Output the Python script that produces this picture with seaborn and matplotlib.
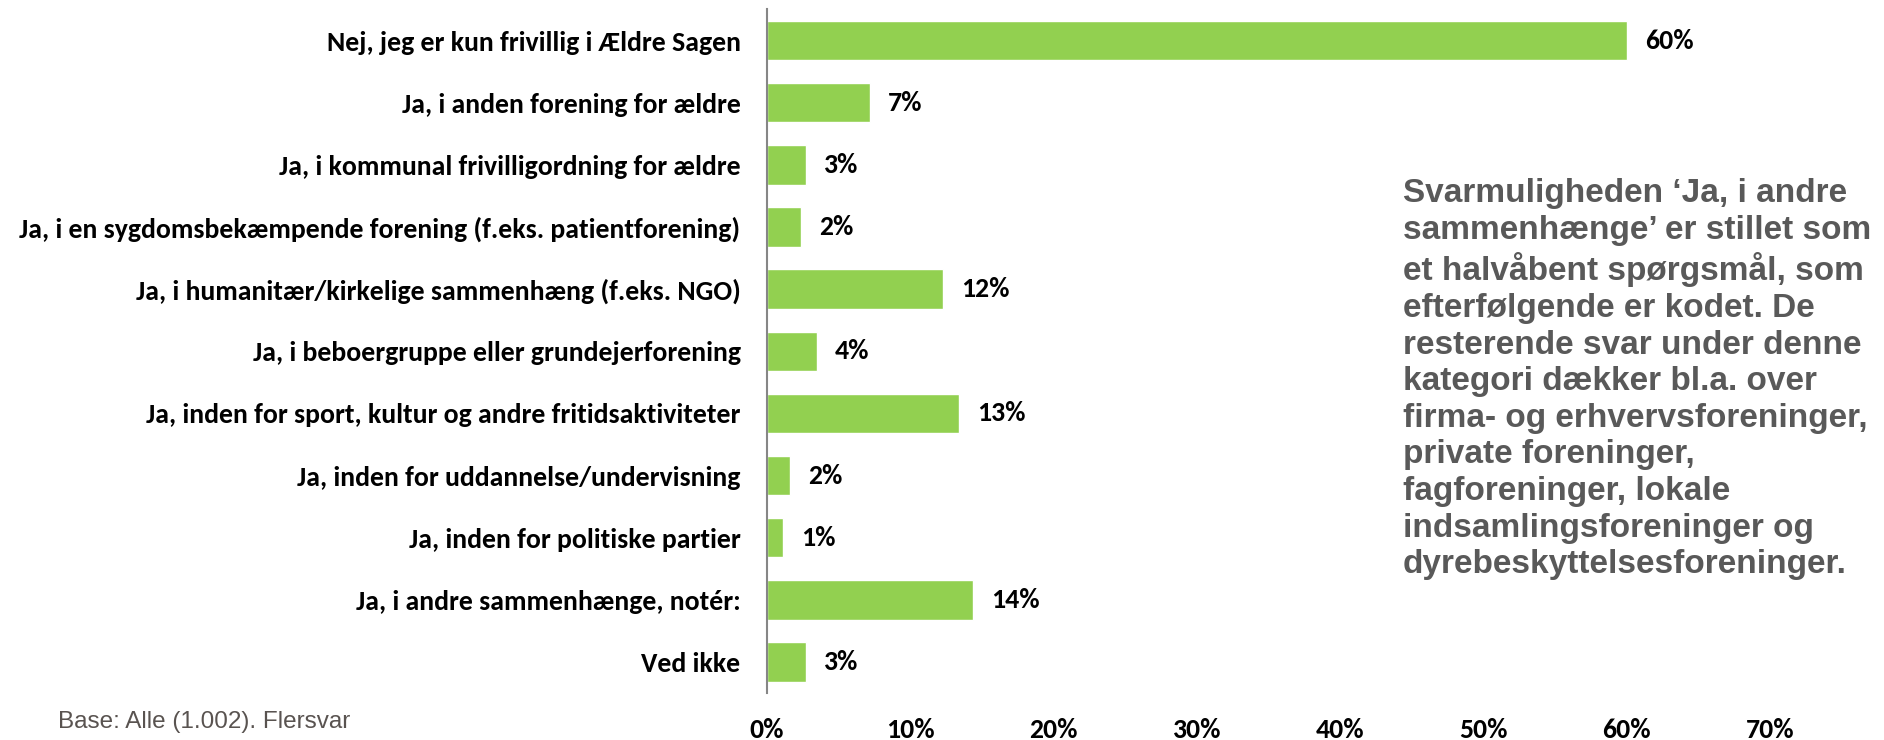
import matplotlib
matplotlib.use("Agg")
import matplotlib.pyplot as plt
from matplotlib import font_manager
import seaborn as sns
import pandas as pd

categories = [
    "Nej, jeg er kun frivillig i Ældre Sagen",
    "Ja, i anden forening for ældre",
    "Ja, i kommunal frivilligordning for ældre",
    "Ja, i en sygdomsbekæmpende forening (f.eks. patientforening)",
    "Ja, i humanitær/kirkelige sammenhæng (f.eks. NGO)",
    "Ja, i beboergruppe eller grundejerforening",
    "Ja, inden for sport, kultur og andre fritidsaktiviteter",
    "Ja, inden for uddannelse/undervisning",
    "Ja, inden for politiske partier",
    "Ja, i andre sammenhænge, notér:",
    "Ved ikke",
]
values = [60.0, 7.2, 2.7, 2.4, 12.3, 3.5, 13.4, 1.6, 1.1, 14.4, 2.7]
value_labels = ["60%", "7%", "3%", "2%", "12%", "4%", "13%", "2%", "1%", "14%", "3%"]
tick_values = [0, 10, 20, 30, 40, 50, 60, 70]
tick_labels = ["0%", "10%", "20%", "30%", "40%", "50%", "60%", "70%"]
note_text = ("Svarmuligheden \u2018Ja, i andre\n"
             "sammenhænge\u2019 er stillet som\n"
             "et halvåbent spørgsmål, som\n"
             "efterfølgende er kodet. De\n"
             "resterende svar under denne\n"
             "kategori dækker bl.a. over\n"
             "firma- og erhvervsforeninger,\n"
             "private foreninger,\n"
             "fagforeninger, lokale\n"
             "indsamlingsforeninger og\n"
             "dyrebeskyttelsesforeninger.")
base_text = "Base: Alle (1.002). Flersvar"

sns.set_theme(style="white")
avail = {f.name for f in font_manager.fontManager.ttflist}
lab_font = next(f for f in ["Carlito", "Lato", "Open Sans", "DejaVu Sans"] if f in avail)
arial = next(f for f in ["Liberation Sans", "Arimo", "DejaVu Sans"] if f in avail)
plt.rcParams["font.family"] = [lab_font, "DejaVu Sans"]

W, H = 1884, 740
fig = plt.figure(figsize=(W / 100, H / 100), dpi=100)
x0, x1 = 767, 1770
y_top, y_bot = 9.5, 693
ax = fig.add_axes([x0 / W, 1 - y_bot / H, (x1 - x0) / W, (y_bot - y_top) / H])

df = pd.DataFrame({"cat": categories, "val": values})
sns.barplot(data=df, y="cat", x="val", orient="h", color="#92D050",
            saturation=1, width=0.635, ax=ax, order=categories)

fs = 20
ax.set_xlim(0, 70)
ax.set_ylim(len(categories) - 0.5, -0.5)
ax.set_xlabel("")
ax.set_ylabel("")
ax.set_xticks(tick_values)
ax.set_xticklabels(tick_labels, fontsize=fs, fontweight="bold", color="black")
ax.set_yticks(range(len(categories)))
ax.set_yticklabels(categories, fontsize=fs, fontweight="bold", color="black")
ax.tick_params(axis="x", length=0, pad=18)
ax.tick_params(axis="y", length=0, pad=19)
for s in ["top", "right", "bottom"]:
    ax.spines[s].set_visible(False)
ax.spines["left"].set_color("#868686")
ax.spines["left"].set_linewidth(1.5)
ax.grid(False)

for i, (v, lab) in enumerate(zip(values, value_labels)):
    ax.annotate(lab, xy=(v, i), xytext=(13, 0), textcoords="offset points",
                ha="left", va="center", fontsize=fs, fontweight="bold", color="black")

fig.text(1403 / W, 1 - 178 / H, note_text, ha="left", va="top",
         fontsize=24, fontweight="bold", color="#595959",
         family=[arial, "DejaVu Sans"], linespacing=1.235)
fig.text(58 / W, 1 - 722 / H, base_text, ha="left", va="center",
         fontsize=17.5, color="#595350", family=[arial, "DejaVu Sans"])

fig.savefig("out.png", dpi=100)
